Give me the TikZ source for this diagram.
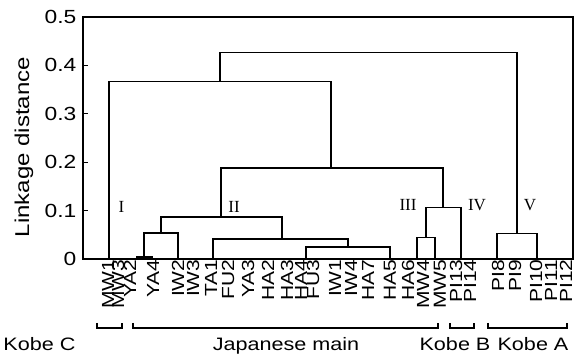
\documentclass[tikz,border=0pt]{standalone}
\usepackage{fontspec}
\setmainfont{Liberation Sans}[FakeStretch=1.2]
\newfontfamily\numfont{Liberation Serif}
\usepackage{tikz}

\tikzset{leaf/.style={rotate=90,anchor=east,inner sep=0pt,font=\fontsize{17.5}{17.5}\selectfont},
grp/.style={anchor=base,inner sep=0pt,font=\fontsize{18}{18}\selectfont},
num/.style={inner sep=0pt,font=\numfont\fontsize{17}{17}\selectfont},
tk/.style={anchor=east,inner sep=0pt,font=\fontsize{19}{19}\selectfont}}

\begin{document}
\begin{tikzpicture}
[x=1pt,y=1pt,line width=1.3pt]
\useasboundingbox (0,0) rectangle (576,355);
\begin{scope}[yshift=96pt,y=484pt]
\draw (83,0) rectangle (573,0.5);
\foreach \t/\l in {0/0,1/0.1,2/0.2,3/0.3,4/0.4,5/0.5} {\draw (83,\t/10) -- ++(5,0); \node[tk] (t\t) at (77,\t/10) {\l};}
\node[rotate=90,font=\fontsize{20}{20}\selectfont] (ylab) at (24,0.231) {Linkage distance};
\foreach \n/\x in {MW1/100,MW3/110,YA2/122,YA4/145,IW2/170,IW3/185,TA1/203,FU2/220,YA3/240,HA2/260,HA3/279,HA4/293,FU3/305,IW1/327,IW4/343,HA7/360,HA5/382,HA6/400,MW4/415,MW5/432,PI13/448,PI14/462,PI8/490,PI9/507,PI10/528,PI11/543,PI12/558} \node[leaf,yshift=-8pt] (\n) at (\x,0) {\n};
\foreach \c/\x in {kc/109,ya2/137,ya4/152,iw/178,tf/213,jm/306,ha/390,mw4/417,mw5/435,kb/461,pa/497,pb/537} \coordinate (\c) at (\x,0);
\coordinate (ya) at (144,0.004);
\coordinate (yi) at (161,0.054);
\coordinate (hh) at (348,0.025);
\coordinate (th) at (282,0.041);
\coordinate (II) at (221,0.087);
\coordinate (mw) at (426,0.045);
\coordinate (mk) at (443,0.106);
\coordinate (ab) at (331,0.188);
\coordinate (lf) at (220,0.366);
\coordinate (ka) at (517,0.052);
\coordinate (rt) at (400,0.426);
\draw (ya2) |- (ya) -| (ya4);
\draw (ya) |- (yi) -| (iw);
\draw (jm) |- (hh) -| (ha);
\draw (tf) |- (th) -| (hh);
\draw (yi) |- (II) -| (th);
\draw (mw4) |- (mw) -| (mw5);
\draw (mw) |- (mk) -| (kb);
\draw (II) |- (ab) -| (mk);
\draw (kc) |- (lf) -| (ab);
\draw (pa) |- (ka) -| (pb);
\draw (lf) |- (rt) -| (ka);
\foreach \r/\x/\y in {I/121.5/0.108,II/234/0.108,III/408/0.111,IV/477/0.111,V/530/0.111} \node[num] (n\r) at (\x,\y) {\r};
\end{scope}
\foreach \a/\b in {97/122,133/438,450/474,488/567} \draw (\a,32) |- (\b,27) -- (\b,32);
\node[grp] (kobeC) at (39.5,4) {Kobe C};
\node[grp] (japan) at (286,4) {Japanese main};
\node[grp] (kobeB) at (455,4) {Kobe B};
\node[grp] (kobeA) at (533,4) {Kobe A};
\end{tikzpicture}
\end{document}
